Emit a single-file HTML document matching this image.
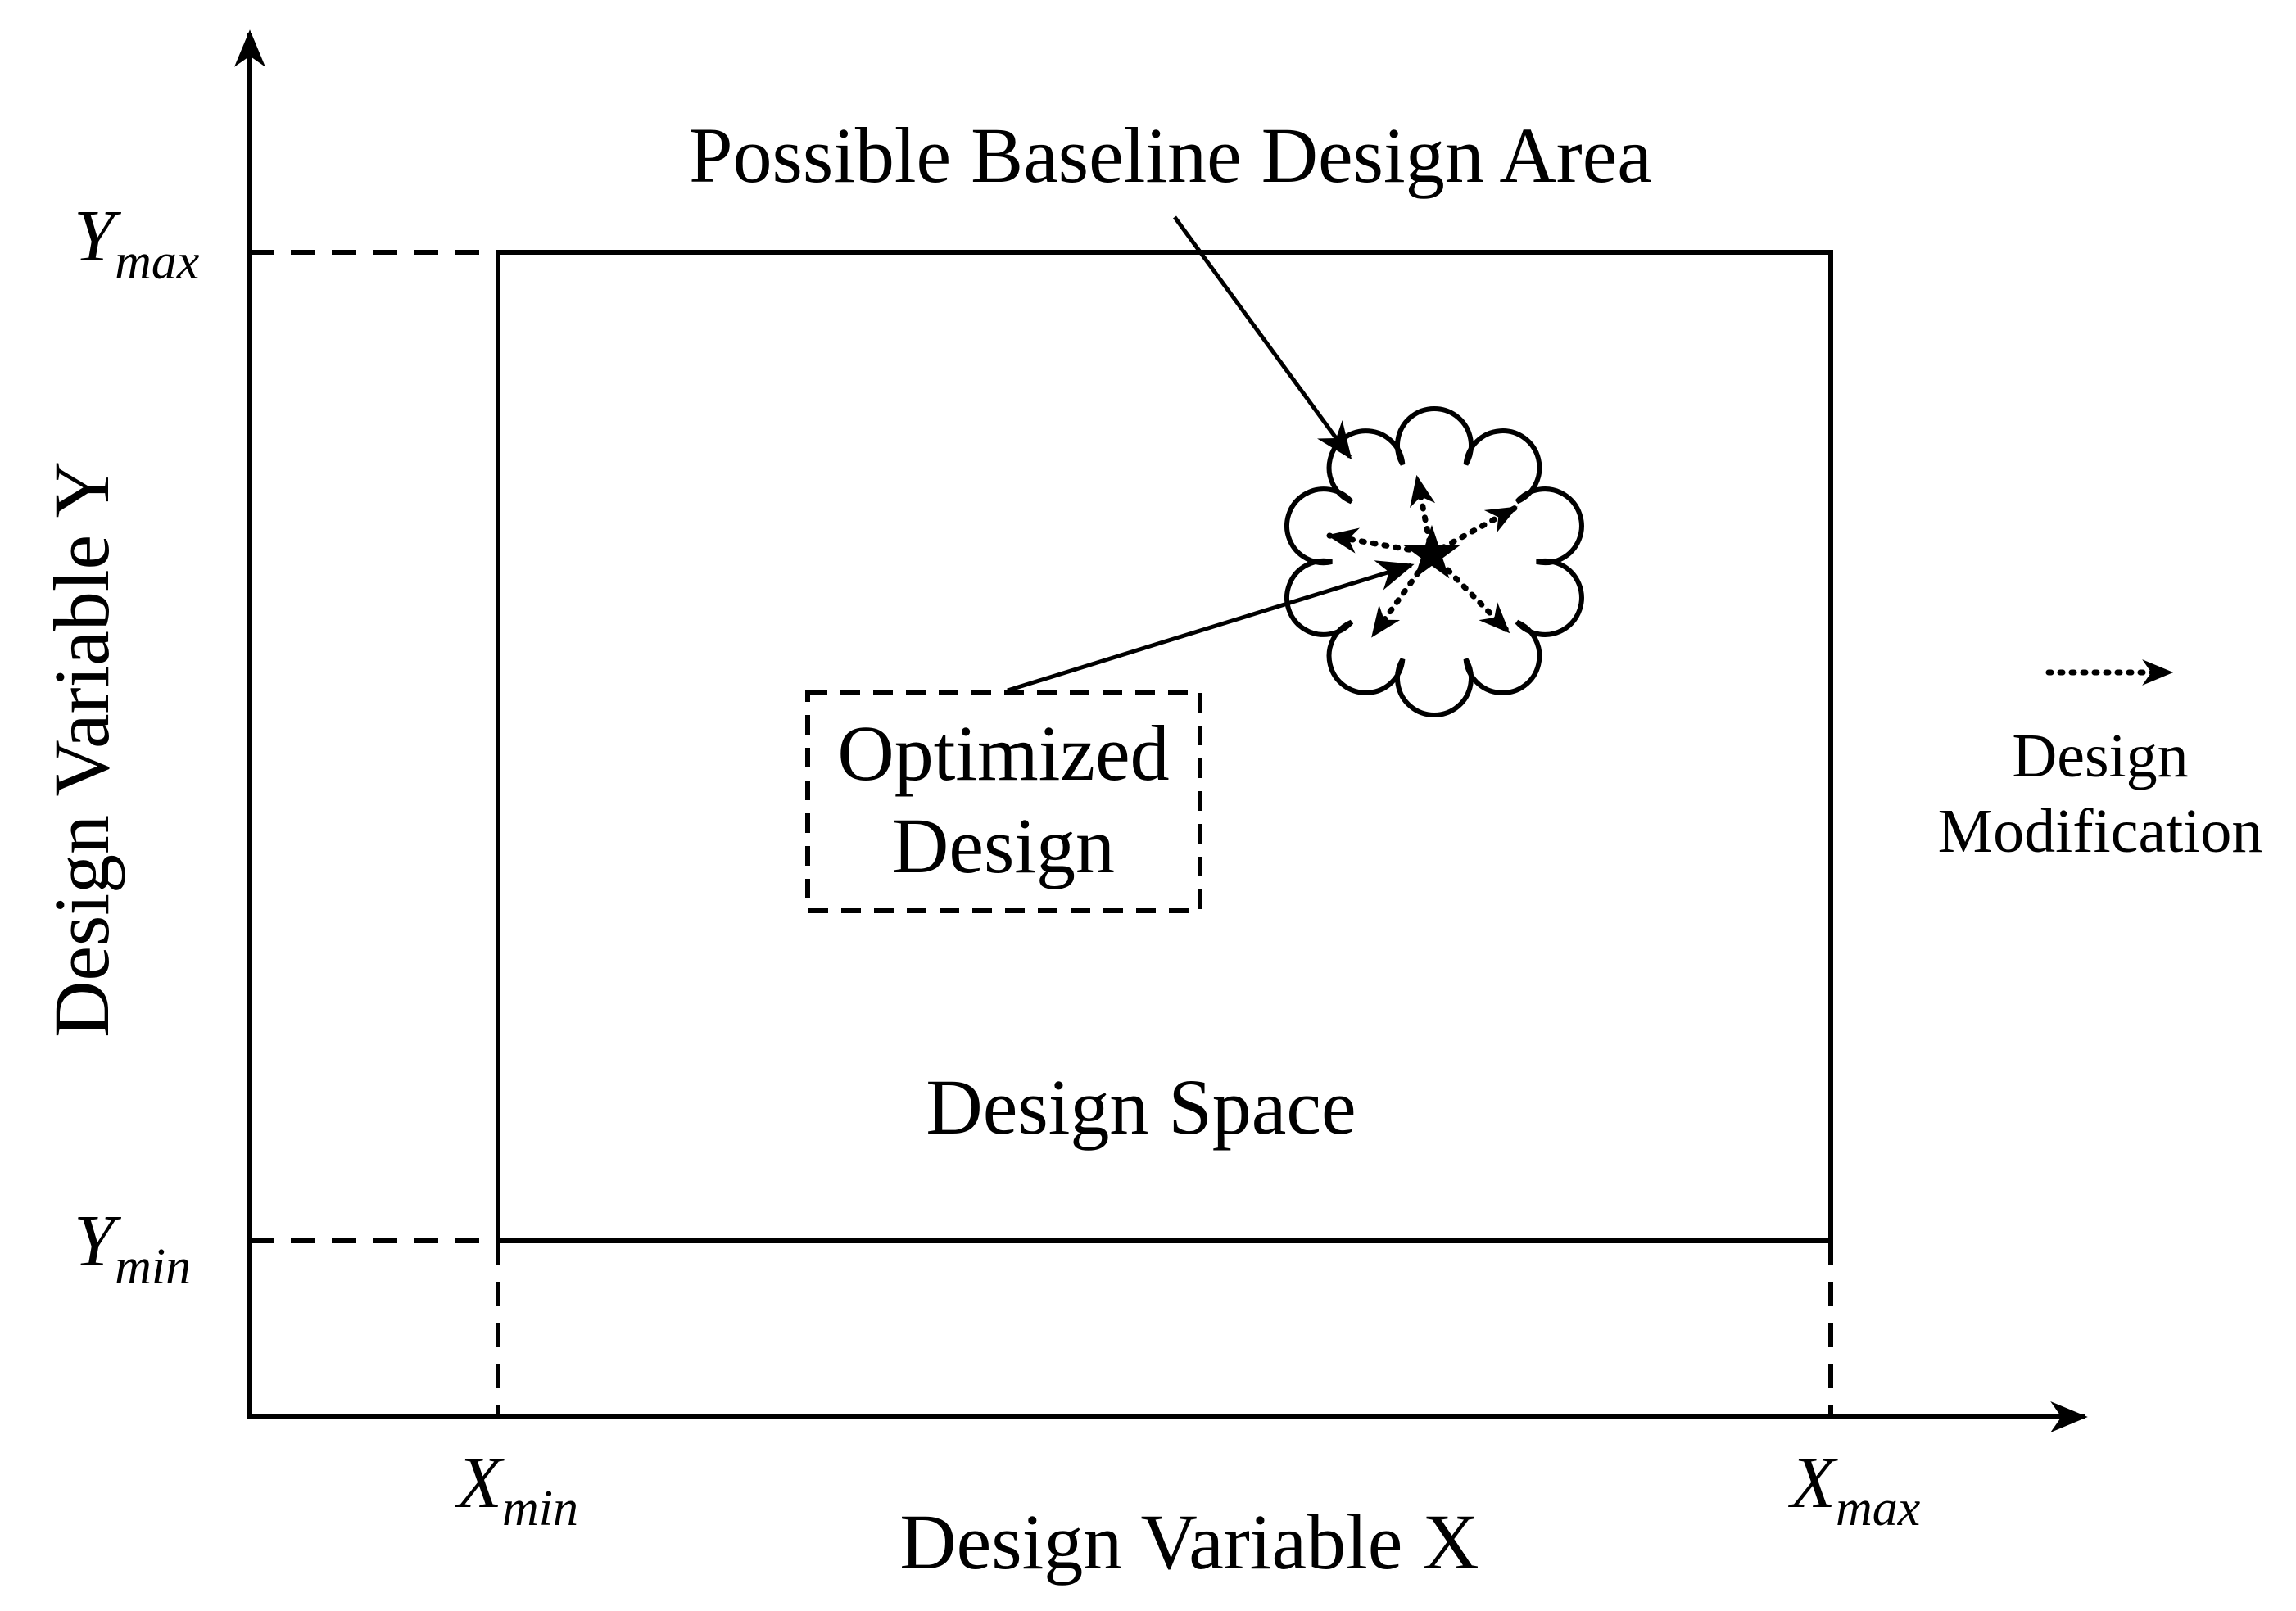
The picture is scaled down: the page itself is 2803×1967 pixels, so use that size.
<!DOCTYPE html>
<html><head><meta charset="utf-8"><style>
html,body{margin:0;padding:0;background:#fff}
svg{display:block}
text{font-family:"Liberation Serif",serif;fill:#000}
</style></head><body>
<svg width="2803" height="1967" viewBox="0 0 2803 1967" xmlns="http://www.w3.org/2000/svg">
<defs>
<marker id="a" viewBox="0 0 12 10" refX="11" refY="5" markerWidth="46" markerHeight="38" orient="auto" markerUnits="userSpaceOnUse">
<path d="M0,0 L12,5 L0,10 L3.5,5 z" fill="#000"/>
</marker>
<marker id="s" viewBox="0 0 12 10" refX="11" refY="5" markerWidth="38" markerHeight="32" orient="auto" markerUnits="userSpaceOnUse">
<path d="M0,0 L12,5 L0,10 L3.5,5 z" fill="#000"/>
</marker>
</defs>
<g stroke="#000" stroke-width="6" fill="none">
<line x1="305" y1="1733" x2="305" y2="40" marker-end="url(#a)"/>
<line x1="302" y1="1730" x2="2545" y2="1730" marker-end="url(#a)"/>
<rect x="608" y="308" width="1627" height="1207"/>
<g stroke-dasharray="30 20">
<line x1="305" y1="308" x2="608" y2="308"/>
<line x1="305" y1="1515" x2="608" y2="1515"/>
<line x1="608" y1="1515" x2="608" y2="1730"/>
<line x1="2235" y1="1515" x2="2235" y2="1730"/>
<rect x="986" y="845" width="479" height="267" stroke-dasharray="24 16"/>
</g>
<path stroke-width="6" fill="#fff" d="M1876,686 A45,45 0 1 1 1852,759.5 A45,45 0 1 1 1789.6,804.9 A45,45 0 1 1 1712.4,804.9 A45,45 0 1 1 1649.9,759.5 A45,45 0 1 1 1626,686 A45,45 0 1 1 1649.9,612.5 A45,45 0 1 1 1712.4,567.1 A45,45 0 1 1 1789.6,567.1 A45,45 0 1 1 1852,612.5 A45,45 0 1 1 1876,686 Z"/>
<line x1="1434" y1="265" x2="1648" y2="558" stroke-width="5" marker-end="url(#a)"/>
<line x1="1230" y1="843" x2="1723" y2="690" stroke-width="5" marker-end="url(#a)"/>
<g stroke-width="7" stroke-dasharray="3 11" stroke-linecap="round">
<line x1="1748" y1="676" x2="1730" y2="583" marker-end="url(#s)"/>
<line x1="1748" y1="676" x2="1850" y2="620" marker-end="url(#s)"/>
<line x1="1748" y1="676" x2="1623" y2="654" marker-end="url(#s)"/>
<line x1="1748" y1="676" x2="1676" y2="776" marker-end="url(#s)"/>
<line x1="1748" y1="676" x2="1841" y2="771" marker-end="url(#s)"/>
<line x1="2501" y1="821" x2="2650" y2="821" marker-end="url(#s)"/>
</g>
</g>
<text x="1748" y="706" font-size="90" text-anchor="middle">★</text>
<text x="1429" y="222" font-size="96" text-anchor="middle">Possible Baseline Design Area</text>
<text x="1225" y="952" font-size="96" text-anchor="middle">Optimized</text>
<text x="1225" y="1065" font-size="96" text-anchor="middle">Design</text>
<text x="1393" y="1384" font-size="96" text-anchor="middle">Design Space</text>
<text x="1452" y="1915" font-size="96" text-anchor="middle">Design Variable X</text>
<text transform="translate(132,915) rotate(-90)" font-size="96" text-anchor="middle">Design Variable Y</text>
<text x="2564" y="948" font-size="76" text-anchor="middle">Design</text>
<text x="2564" y="1040" font-size="76" text-anchor="middle">Modification</text>
<text x="90" y="318" font-size="90" font-style="italic">Y<tspan font-size="62" dy="22">max</tspan></text>
<text x="90" y="1545" font-size="90" font-style="italic">Y<tspan font-size="62" dy="22">min</tspan></text>
<text x="558" y="1840" font-size="90" font-style="italic">X<tspan font-size="62" dy="22">min</tspan></text>
<text x="2186" y="1840" font-size="90" font-style="italic">X<tspan font-size="62" dy="22">max</tspan></text>
</svg>
</body></html>
